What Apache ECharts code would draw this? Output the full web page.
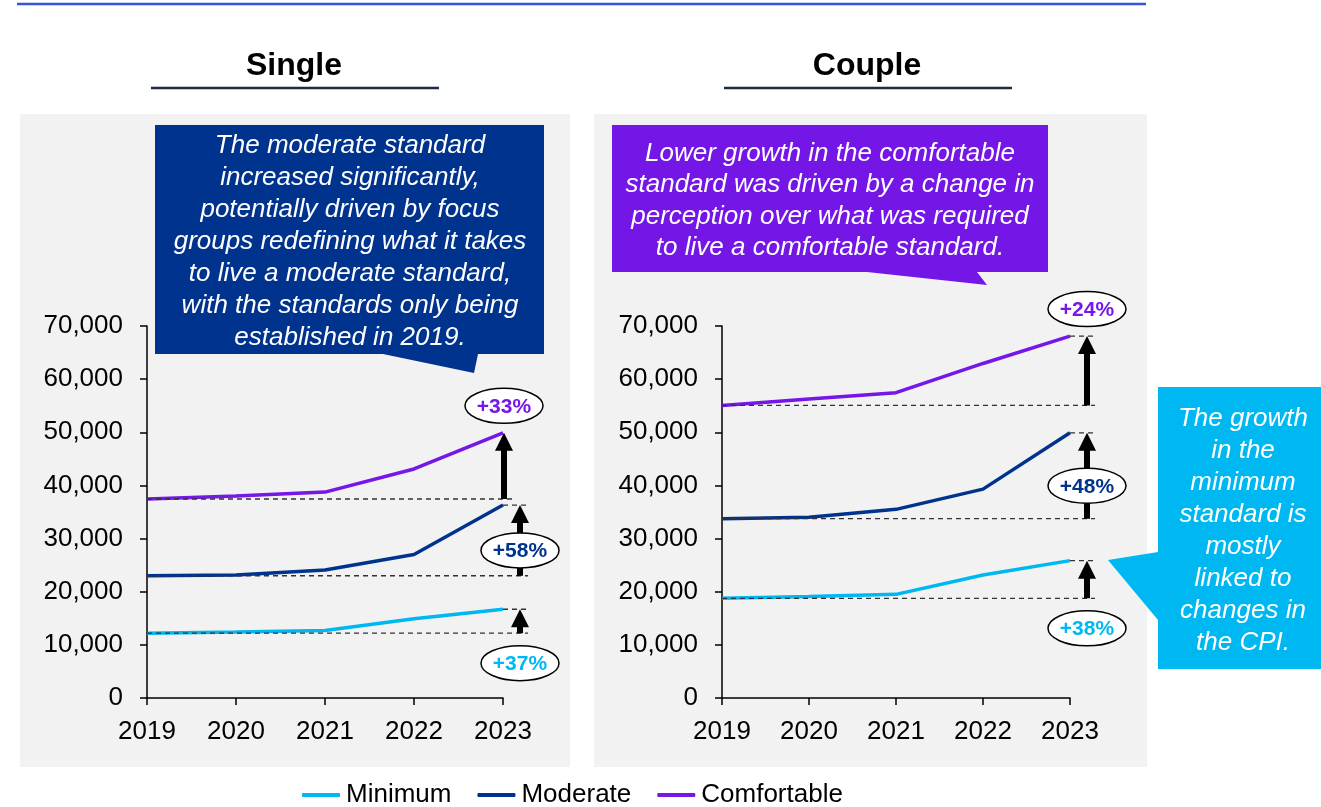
<!DOCTYPE html>
<html><head><meta charset="utf-8">
<script src="https://cdn.jsdelivr.net/npm/echarts@6/dist/echarts.min.js"></script>
<style>html,body{margin:0;padding:0;background:#fff}#c{width:1321px;height:807px}</style>
</head><body><div id="c"></div>
<script>
// ---- data ----
const years = ['2019', '2020', '2021', '2022', '2023'];
const seriesNames = ['Minimum', 'Moderate', 'Comfortable'];
const singleMinimum = [12200, 12400, 12700, 14900, 16700];
const singleModerate = [23000, 23150, 24100, 27000, 36300];
const singleComfortable = [37450, 38000, 38750, 43100, 49900];
const coupleMinimum = [18750, 19100, 19500, 23150, 25850];
const coupleModerate = [33750, 34000, 35500, 39300, 49900];
const coupleComfortable = [55050, 56250, 57450, 62950, 68100];
const singleGrowth = ['+37%', '+58%', '+33%'];
const coupleGrowth = ['+38%', '+48%', '+24%'];
const panelTitles = ['Single', 'Couple'];
const singleNote = ['The moderate standard', 'increased significantly,', 'potentially driven by focus', 'groups redefining what it takes', 'to live a moderate standard,', 'with the standards only being', 'established in 2019.'];
const coupleNote = ['Lower growth in the comfortable', 'standard was driven by a change in', 'perception over what was required', 'to live a comfortable standard.'];
const minimumNote = ['The growth', 'in the', 'minimum', 'standard is', 'mostly', 'linked to', 'changes in', 'the CPI.'];

// ---- style ----
const colors = ['#00b8f1', '#00338d', '#7417e8'];
const FONT = '"Liberation Sans", Arial, sans-serif';

const chart = echarts.init(document.getElementById('c'));

function lineSeries(name, data, idx, color) {
  return {
    type: 'line', name, data, xAxisIndex: idx, yAxisIndex: idx,
    symbol: 'none', smooth: false,
    lineStyle: { color, width: 3.5 }, itemStyle: { color }, z: 3
  };
}

function makeRender(growth, comOffset) {
  return function (params, api) {
    const kind = api.value(3);
    const base = api.coord([4, api.value(1)]);
    const top = api.coord([4, api.value(2)]);
    const x0 = api.coord([0, api.value(1)])[0];
    const x4 = base[0];
    const yb = base[1], yt = top[1];
    const special = (kind === 2 && comOffset < 5);
    const ax = x4 + (kind === 2 ? comOffset : 17);
    const dashEnd = x4 + (special ? 10 : 25);
    const dash = { stroke: '#333', lineWidth: 1.3, lineDash: [5, 4], fill: null };
    const children = [];
    children.push({ type: 'line', shape: { x1: x0, y1: yb, x2: dashEnd, y2: yb }, style: dash });
    if (!special) children.push({ type: 'line', shape: { x1: x4, y1: yt, x2: dashEnd, y2: yt }, style: dash });
    const hh = 18, hw = 9, sw = 3;
    children.push({ type: 'polygon', shape: { points: [[ax - sw, yb], [ax - sw, yt + hh], [ax - hw, yt + hh], [ax, yt], [ax + hw, yt + hh], [ax + sw, yt + hh], [ax + sw, yb]] }, style: { fill: '#000' } });
    const cy = kind === 0 ? yb + 30 : (kind === 1 ? (yb + yt) / 2 + 10 : yt - 27);
    children.push({ type: 'ellipse', shape: { cx: ax, cy: cy, rx: 39, ry: 17.5 }, style: { fill: '#fff', stroke: '#000', lineWidth: 1.5 } });
    children.push({ type: 'text', x: ax, y: cy + 1, style: { text: growth[kind], fill: colors[kind], font: 'bold 21px ' + FONT, align: 'center', verticalAlign: 'middle' } });
    return { type: 'group', children };
  };
}

function growthData(arrs) {
  return arrs.map((a, i) => [4, a[0], a[a.length - 1], i]);
}

function xAxis(idx) {
  return {
    type: 'category', gridIndex: idx, data: years, boundaryGap: false,
    axisLine: { lineStyle: { color: '#000', width: 1.5 } },
    splitLine: { show: false },
    axisLabel: { color: '#000', fontSize: 26, fontFamily: FONT, margin: 21 },
    axisTick: { lineStyle: { color: '#000', width: 1.5 }, length: 7, alignWithLabel: true }
  };
}
function yAxis(idx) {
  return {
    type: 'value', gridIndex: idx, min: 0, max: 70000, interval: 10000,
    splitLine: { show: false },
    axisLine: { show: true, lineStyle: { color: '#000', width: 1.5 } },
    axisTick: { show: true, lineStyle: { color: '#000', width: 1.5 }, length: 7 },
    axisLabel: { color: '#000', fontSize: 26, fontFamily: FONT, margin: 24,
      formatter: v => v.toLocaleString('en-US') }
  };
}

function callout(color, rect, tail, lines, cx, cy, lh) {
  return [
    { type: 'polygon', z: 20, shape: { points: [[rect[0], rect[1]], [rect[2], rect[1]], [rect[2], rect[3]], tail[2], tail[1], tail[0], [rect[0], rect[3]]] }, style: { fill: color } },
    { type: 'text', z: 21, x: cx, y: cy, style: { text: lines.join('\n'), fill: '#fff', font: 'italic 26px ' + FONT, lineHeight: lh, align: 'center', verticalAlign: 'middle' } }
  ];
}

const option = {
  animation: false,
  backgroundColor: '#fff',
  title: panelTitles.map((t, i) => ({
    text: t, left: i === 0 ? 289 : 862, top: 45, textAlign: 'center',
    textStyle: { fontSize: 32, fontWeight: 'bold', color: '#000', fontFamily: FONT }
  })),
  legend: {
    data: seriesNames, left: 297, top: 777, itemWidth: 38, itemHeight: 4, itemGap: 26,
    icon: 'roundRect',
    textStyle: { fontSize: 26, color: '#000', fontFamily: FONT, padding: [0, 0, 0, 1] }
  },
  grid: [
    { left: 147, top: 326, width: 356, height: 372, containLabel: false },
    { left: 722, top: 326, width: 348, height: 372, containLabel: false }
  ],
  xAxis: [xAxis(0), xAxis(1)],
  yAxis: [yAxis(0), yAxis(1)],
  graphic: [
    { type: 'rect', z: -10, shape: { x: 20, y: 114, width: 550, height: 653 }, style: { fill: '#f2f2f2' } },
    { type: 'rect', z: -10, shape: { x: 594, y: 114, width: 553, height: 653 }, style: { fill: '#f2f2f2' } },
    { type: 'line', shape: { x1: 17, y1: 4, x2: 1146, y2: 4 }, style: { stroke: '#3355dd', lineWidth: 2.5 } },
    { type: 'line', shape: { x1: 151, y1: 88, x2: 439, y2: 88 }, style: { stroke: '#1c2b3f', lineWidth: 2.5 } },
    { type: 'line', shape: { x1: 724, y1: 88, x2: 1012, y2: 88 }, style: { stroke: '#1c2b3f', lineWidth: 2.5 } },
    ...callout('#00338d', [155, 125, 544, 354], [[383, 354], [474, 373], [478, 354]], singleNote, 350, 242, 32),
    ...callout('#7417e6', [612, 125, 1048, 272], [[867, 272], [987, 285], [977, 272]], coupleNote, 830, 201, 31.5),
    { type: 'polygon', z: 20, shape: { points: [[1158, 387], [1321, 387], [1321, 669], [1158, 669], [1158, 620], [1108, 560], [1158, 552]] }, style: { fill: '#00b8f1' } },
    { type: 'text', z: 21, x: 1243, y: 531, style: { text: minimumNote.join('\n'), fill: '#fff', font: 'italic 26px ' + FONT, lineHeight: 32, align: 'center', verticalAlign: 'middle' } }
  ],
  series: [
    lineSeries(seriesNames[0], singleMinimum, 0, colors[0]),
    lineSeries(seriesNames[1], singleModerate, 0, colors[1]),
    lineSeries(seriesNames[2], singleComfortable, 0, colors[2]),
    lineSeries(seriesNames[0], coupleMinimum, 1, colors[0]),
    lineSeries(seriesNames[1], coupleModerate, 1, colors[1]),
    lineSeries(seriesNames[2], coupleComfortable, 1, colors[2]),
    { type: 'custom', xAxisIndex: 0, yAxisIndex: 0, z: 5, clip: false,
      renderItem: makeRender(singleGrowth, 1), encode: { x: 0, y: [1, 2] },
      data: growthData([singleMinimum, singleModerate, singleComfortable]) },
    { type: 'custom', xAxisIndex: 1, yAxisIndex: 1, z: 5, clip: false,
      renderItem: makeRender(coupleGrowth, 17), encode: { x: 0, y: [1, 2] },
      data: growthData([coupleMinimum, coupleModerate, coupleComfortable]) }
  ]
};
chart.setOption(option);
</script></body></html>
